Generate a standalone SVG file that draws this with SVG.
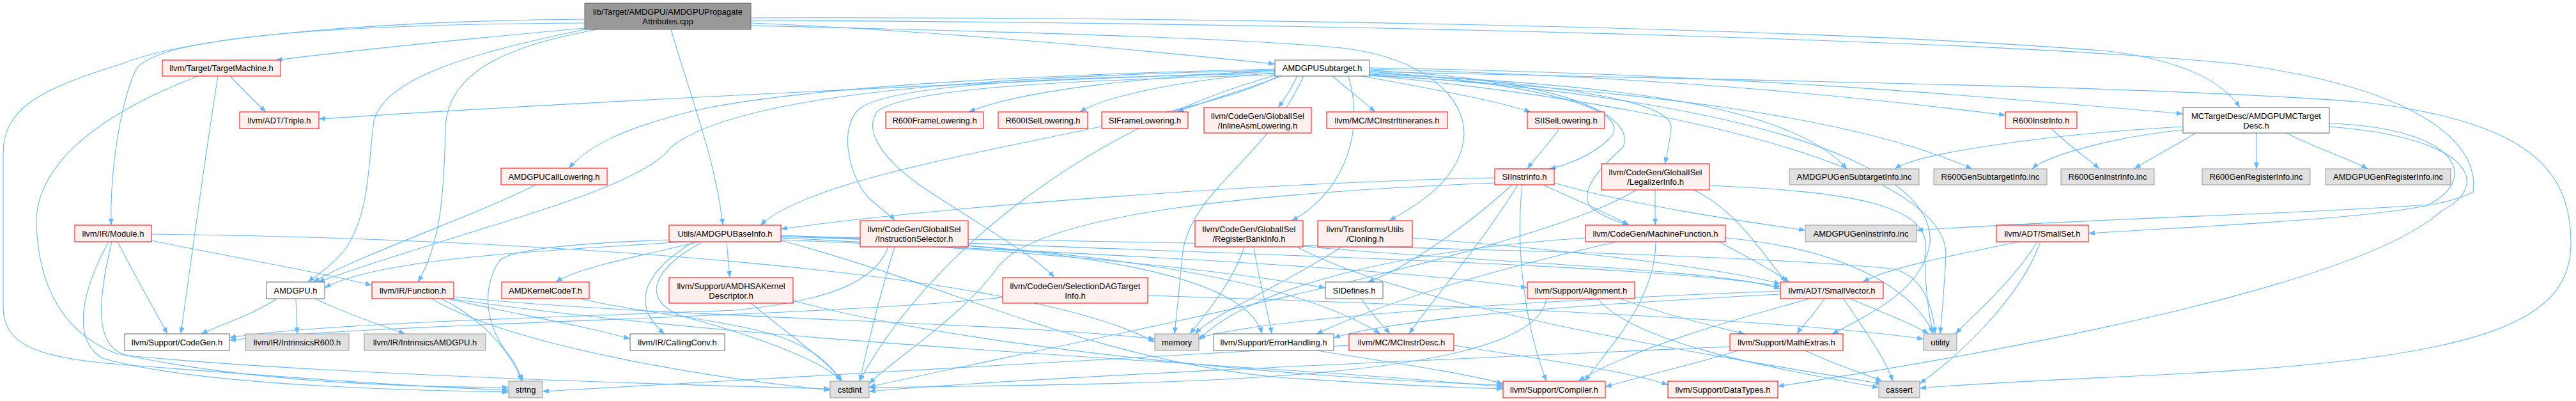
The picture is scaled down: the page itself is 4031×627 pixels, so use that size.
<svg xmlns="http://www.w3.org/2000/svg" width="4031" height="627" viewBox="0 0 4031 627">
<style>
rect.r{fill:#fff0f0;stroke:#ff0000;stroke-width:1}
rect.w{fill:#ffffff;stroke:#666666;stroke-width:1}
rect.g{fill:#e0e0e0;stroke:#999999;stroke-width:1}
rect.root{fill:#999999;stroke:#666666;stroke-width:1}
text{font-family:"Liberation Sans",Arial,Helvetica,sans-serif;font-size:13px;fill:#000;text-anchor:middle}
#edges path{fill:none;stroke:#63b8ff;stroke-width:1.1;marker-end:url(#arr)}
</style>
<defs>
<marker id="arr" markerUnits="userSpaceOnUse" markerWidth="11" markerHeight="8" refX="10" refY="4" orient="auto"><path d="M0,0 L10,4 L0,8 z" fill="#63b8ff"/></marker>
</defs>
<rect width="4031" height="627" fill="#fff"/>
<g id="edges">
<path d="M915,44 C760,58 560,78 432,94"/>
<path d="M915,36 C500,38 240,60 212,110 C185,170 172,280 174,352"/>
<path d="M915,30 C600,33 300,55 190,100 C60,140 5,170 5,240 L5,480 C5,540 60,560 190,570 C450,590 650,605 796,610"/>
<path d="M915,46 C750,80 600,120 585,190 C575,260 580,330 540,390 C515,420 495,430 482,441"/>
<path d="M935,46 C800,70 700,110 697,200 C695,300 690,380 654,441"/>
<path d="M1175,36 C1500,50 1800,80 1995,100"/>
<path d="M1050,46 C1080,150 1120,250 1131,352"/>
<path d="M1175,28 C1800,26 2800,40 3300,80 C3420,95 3480,130 3505,168"/>
<path d="M1175,32 C2000,35 3100,60 3500,100 C3800,140 3880,230 3870,300 C3800,340 3500,350 3268,365"/>
<path d="M1175,40 C1600,50 1950,60 2100,75 C2220,88 2300,150 2290,220 C2280,290 2200,330 2174,345"/>
<path d="M1995,112 C1500,130 900,160 499,186"/>
<path d="M1995,110 C1800,120 1600,140 1516,175"/>
<path d="M1995,114 C1850,125 1730,150 1690,175"/>
<path d="M2005,119 C1950,140 1880,160 1842,175"/>
<path d="M2030,119 C2020,140 2010,155 2000,168"/>
<path d="M2085,119 C2110,140 2135,160 2152,175"/>
<path d="M2130,119 C2250,140 2350,160 2395,175"/>
<path d="M2143,112 C2400,130 2560,170 2520,215 C2490,245 2450,258 2425,264"/>
<path d="M2143,114 C2450,130 2620,160 2615,200 C2612,230 2608,245 2605,256"/>
<path d="M2143,108 C2600,120 2900,150 3138,180"/>
<path d="M2143,116 C2500,130 2800,160 2890,264"/>
<path d="M2143,118 C2550,140 2900,180 3086,264"/>
<path d="M2143,106 C2700,115 3100,150 3416,178"/>
<path d="M1995,108 C1700,115 1300,130 1100,170 C970,200 920,230 890,263"/>
<path d="M1995,110 C1500,120 1150,150 1050,230 C1000,300 720,360 498,441"/>
<path d="M2000,119 C1850,200 1300,250 1190,352"/>
<path d="M1995,115 C1700,120 1400,128 1345,170 C1310,200 1330,280 1360,310 C1380,328 1395,338 1400,345"/>
<path d="M2110,119 C2140,220 2090,310 2021,345"/>
<path d="M2143,110 C2450,125 2560,180 2540,230 C2500,265 2470,300 2490,325 C2510,340 2535,348 2549,352"/>
<path d="M1995,117 C1700,125 1420,135 1372,175 C1355,200 1370,240 1440,290 C1530,350 1620,400 1650,434"/>
<path d="M2143,117 C2700,150 3030,250 3020,380 C3010,450 2930,490 2867,522"/>
<path d="M2143,112 C2700,125 3400,135 3700,160 C3950,190 4023,260 4023,380 C4023,500 3900,560 3400,585 C3200,595 3080,600 3004,607"/>
<path d="M1995,118 C1700,200 1450,400 1345,596"/>
<path d="M2040,119 C1980,250 1860,300 1850,400 C1845,460 1840,500 1838,522"/>
<path d="M2143,118 C2700,170 3050,280 3045,400 C3042,460 3038,500 3036,522"/>
<path d="M838,289 C760,330 560,400 490,441"/>
<path d="M360,119 C380,140 400,160 416,175"/>
<path d="M341,119 C320,250 300,400 283,522"/>
<path d="M310,119 C150,180 55,260 57,350 C60,450 100,520 180,552 C400,600 650,605 796,606"/>
<path d="M184,378 C210,430 240,480 262,522"/>
<path d="M237,376 C350,400 500,425 582,446"/>
<path d="M170,378 C130,450 110,530 160,560 C300,600 600,610 796,613"/>
<path d="M175,378 C150,480 150,545 200,556 C500,585 1000,600 1299,608"/>
<path d="M237,366 C800,372 1600,420 1807,535"/>
<path d="M433,467 C400,490 340,510 315,522"/>
<path d="M463,467 L465,522"/>
<path d="M493,467 C540,490 600,510 634,522"/>
<path d="M700,467 C800,490 920,510 986,530"/>
<path d="M690,467 C760,500 805,560 816,596"/>
<path d="M675,467 C800,540 1100,590 1299,610"/>
<path d="M705,467 C1200,540 2000,570 2352,605"/>
<path d="M710,464 C1000,495 1600,505 1807,530"/>
<path d="M1070,378 C900,390 600,400 508,450"/>
<path d="M1095,378 C1000,400 900,420 870,441"/>
<path d="M1137,378 L1142,434"/>
<path d="M1085,378 C1000,430 990,480 1040,522"/>
<path d="M1100,378 C1020,420 1000,470 1070,495 C1180,525 1280,560 1318,596"/>
<path d="M1222,372 C1600,390 1900,420 2074,450"/>
<path d="M1222,375 C1700,395 2200,420 2390,450"/>
<path d="M1222,370 C1600,380 2000,420 2160,522"/>
<path d="M1222,368 C1700,385 1950,430 1975,522"/>
<path d="M1222,376 C1500,450 1700,560 2000,590 C2150,600 2250,605 2352,608"/>
<path d="M1050,375 C900,380 790,390 780,410 C760,440 750,500 800,560 C810,575 815,588 818,596"/>
<path d="M1222,370 C2000,380 2700,395 2960,420 C3010,430 3025,480 3028,522"/>
<path d="M908,467 C1000,490 1150,500 1230,530 C1280,550 1305,575 1315,596"/>
<path d="M1175,474 C1230,520 1290,560 1318,596"/>
<path d="M1241,470 C1500,540 2000,590 2352,602"/>
<path d="M1390,386 C1370,440 1300,470 1150,485 C900,495 500,505 359,528"/>
<path d="M1515,380 C2000,400 2600,415 2786,448"/>
<path d="M1400,386 C1380,450 1360,530 1345,596"/>
<path d="M1947,386 C1930,440 1880,500 1862,522"/>
<path d="M1962,386 C1970,440 1985,490 1990,522"/>
<path d="M2039,385 C2300,410 2700,420 2786,452"/>
<path d="M2030,386 C2200,480 2700,560 2945,600"/>
<path d="M2210,372 C2450,390 2700,420 2786,444"/>
<path d="M2100,386 C2000,450 1900,490 1870,522"/>
<path d="M2530,378 C2300,430 2150,480 2060,522"/>
<path d="M2591,378 C2590,470 2520,540 2480,596"/>
<path d="M2690,378 C2730,400 2770,420 2800,441"/>
<path d="M2700,372 C2900,390 3000,460 3025,522"/>
<path d="M2481,372 C2200,390 1950,450 1876,532"/>
<path d="M2590,297 L2590,352"/>
<path d="M2650,297 C2720,330 2760,400 2795,441"/>
<path d="M2675,290 C2900,300 3030,320 3012,400 C3013,460 3020,500 3025,522"/>
<path d="M2560,297 C2400,400 1600,550 1360,605"/>
<path d="M2339,278 C2000,285 1500,320 1222,358"/>
<path d="M2366,289 C2300,350 2200,420 2140,441"/>
<path d="M2375,289 C2320,380 2240,470 2205,522"/>
<path d="M2382,289 C2370,400 2390,520 2420,596"/>
<path d="M2415,289 C2460,310 2520,335 2549,352"/>
<path d="M2432,286 C2550,320 2720,345 2825,360"/>
<path d="M2339,286 C2000,300 1620,330 1560,420 C1500,500 1400,560 1360,600"/>
<path d="M2440,201 C2420,230 2400,250 2390,264"/>
<path d="M3210,201 C3240,230 3270,250 3285,264"/>
<path d="M3531,208 L3531,264"/>
<path d="M3578,208 C3620,230 3680,250 3705,264"/>
<path d="M3416,198 C3200,210 3000,240 2965,264"/>
<path d="M3416,203 C3300,215 3200,245 3180,264"/>
<path d="M3436,208 C3400,230 3360,250 3340,264"/>
<path d="M3645,193 C3850,200 3880,280 3800,320 C3600,335 3300,340 2999,360"/>
<path d="M3645,198 C3870,215 3900,290 3820,330 C3700,440 3200,540 2782,604"/>
<path d="M3160,378 C3050,400 2950,420 2915,441"/>
<path d="M3188,378 C3150,440 3090,490 3060,522"/>
<path d="M3193,378 C3160,470 3060,560 3004,600"/>
<path d="M2855,467 C2840,490 2820,510 2812,522"/>
<path d="M2895,467 C2950,490 3000,510 3018,522"/>
<path d="M2885,467 C2920,520 2950,560 2962,596"/>
<path d="M2832,467 C2750,490 2560,540 2470,596"/>
<path d="M2786,460 C2500,475 2200,495 2087,528"/>
<path d="M2786,455 C2400,470 2000,495 1876,528"/>
<path d="M2720,548 C2650,570 2580,585 2512,605"/>
<path d="M2825,548 C2870,570 2920,585 2945,596"/>
<path d="M2707,542 C2300,560 1600,590 1360,612"/>
<path d="M2535,467 C2600,490 2680,510 2730,522"/>
<path d="M2500,467 C2560,540 2800,580 2940,606"/>
<path d="M2420,467 C2400,600 1800,600 1360,606"/>
<path d="M2060,548 C2200,570 2300,585 2352,600"/>
<path d="M2275,540 C2400,560 2550,580 2610,602"/>
<path d="M2111,540 C1600,570 1000,600 849,612"/>
<path d="M2130,467 C2145,490 2165,510 2175,522"/>
<path d="M1569,465 C1300,495 600,505 359,532"/>
<path d="M1796,462 C2300,478 2800,500 3010,530"/>
</g>
<g id="root"><rect class="root" x="915" y="5" width="260" height="41"/><text x="1045" y="23">lib/Target/AMDGPU/AMDGPUPropagate</text><text x="1045" y="38">Attributes.cpp</text></g>
<g id="tm"><rect class="r" x="254" y="94" width="185" height="25"/><text x="346.5" y="111">llvm/Target/TargetMachine.h</text></g>
<g id="subtarget"><rect class="w" x="1995" y="94" width="148" height="25"/><text x="2069" y="111">AMDGPUSubtarget.h</text></g>
<g id="triple"><rect class="r" x="375" y="175" width="124" height="26"/><text x="437" y="192.5">llvm/ADT/Triple.h</text></g>
<g id="r600frame"><rect class="r" x="1386" y="175" width="153" height="26"/><text x="1462.5" y="192.5">R600FrameLowering.h</text></g>
<g id="r600isel"><rect class="r" x="1562" y="175" width="140" height="26"/><text x="1632" y="192.5">R600ISelLowering.h</text></g>
<g id="siframe"><rect class="r" x="1724" y="175" width="135" height="26"/><text x="1791.5" y="192.5">SIFrameLowering.h</text></g>
<g id="inlineasm"><rect class="r" x="1884" y="168" width="168" height="40"/><text x="1968" y="186">llvm/CodeGen/GlobalISel</text><text x="1968" y="201">/InlineAsmLowering.h</text></g>
<g id="mcitin"><rect class="r" x="2076" y="175" width="189" height="26"/><text x="2170.5" y="192.5">llvm/MC/MCInstrItineraries.h</text></g>
<g id="siisel"><rect class="r" x="2390" y="175" width="121" height="26"/><text x="2450.5" y="192.5">SIISelLowering.h</text></g>
<g id="r600instr"><rect class="r" x="3138" y="175" width="112" height="26"/><text x="3194" y="192.5">R600InstrInfo.h</text></g>
<g id="mctd"><rect class="w" x="3416" y="168" width="229" height="40"/><text x="3530.5" y="186">MCTargetDesc/AMDGPUMCTarget</text><text x="3530.5" y="201">Desc.h</text></g>
<g id="calllow"><rect class="r" x="784" y="263" width="166" height="26"/><text x="867" y="280.5">AMDGPUCallLowering.h</text></g>
<g id="siinstr"><rect class="r" x="2339" y="264" width="93" height="25"/><text x="2385.5" y="281">SIInstrInfo.h</text></g>
<g id="legal"><rect class="r" x="2506" y="256" width="169" height="41"/><text x="2590.5" y="274">llvm/CodeGen/GlobalISel</text><text x="2590.5" y="289">/LegalizerInfo.h</text></g>
<g id="gensub"><rect class="g" x="2800" y="264" width="203" height="25"/><text x="2901.5" y="281">AMDGPUGenSubtargetInfo.inc</text></g>
<g id="r600gensub"><rect class="g" x="3026" y="264" width="177" height="25"/><text x="3114.5" y="281">R600GenSubtargetInfo.inc</text></g>
<g id="r600geninstr"><rect class="g" x="3225" y="264" width="146" height="25"/><text x="3298" y="281">R600GenInstrInfo.inc</text></g>
<g id="r600genreg"><rect class="g" x="3446" y="264" width="169" height="25"/><text x="3530.5" y="281">R600GenRegisterInfo.inc</text></g>
<g id="amdgenreg"><rect class="g" x="3639" y="264" width="196" height="25"/><text x="3737" y="281">AMDGPUGenRegisterInfo.inc</text></g>
<g id="module"><rect class="r" x="117" y="352" width="120" height="26"/><text x="177" y="369.5">llvm/IR/Module.h</text></g>
<g id="baseinfo"><rect class="r" x="1047" y="352" width="175" height="26"/><text x="1134.5" y="369.5">Utils/AMDGPUBaseInfo.h</text></g>
<g id="instsel"><rect class="r" x="1346" y="345" width="169" height="41"/><text x="1430.5" y="363">llvm/CodeGen/GlobalISel</text><text x="1430.5" y="378">/InstructionSelector.h</text></g>
<g id="regbank"><rect class="r" x="1870" y="345" width="169" height="41"/><text x="1954.5" y="363">llvm/CodeGen/GlobalISel</text><text x="1954.5" y="378">/RegisterBankInfo.h</text></g>
<g id="cloning"><rect class="r" x="2062" y="345" width="148" height="41"/><text x="2136" y="363">llvm/Transforms/Utils</text><text x="2136" y="378">/Cloning.h</text></g>
<g id="mf"><rect class="r" x="2481" y="352" width="219" height="26"/><text x="2590.5" y="369.5">llvm/CodeGen/MachineFunction.h</text></g>
<g id="geninstr"><rect class="g" x="2825" y="352" width="174" height="26"/><text x="2912" y="369.5">AMDGPUGenInstrInfo.inc</text></g>
<g id="smallset"><rect class="r" x="3124" y="352" width="144" height="26"/><text x="3196" y="369.5">llvm/ADT/SmallSet.h</text></g>
<g id="amdgpu"><rect class="w" x="417" y="441" width="91" height="26"/><text x="462.5" y="458.5">AMDGPU.h</text></g>
<g id="function"><rect class="r" x="582" y="441" width="128" height="26"/><text x="646" y="458.5">llvm/IR/Function.h</text></g>
<g id="kernelcode"><rect class="r" x="785" y="441" width="137" height="26"/><text x="853.5" y="458.5">AMDKernelCodeT.h</text></g>
<g id="hsakd"><rect class="r" x="1047" y="434" width="194" height="40"/><text x="1144" y="452">llvm/Support/AMDHSAKernel</text><text x="1144" y="467">Descriptor.h</text></g>
<g id="sdagti"><rect class="r" x="1569" y="434" width="227" height="40"/><text x="1682.5" y="452">llvm/CodeGen/SelectionDAGTarget</text><text x="1682.5" y="467">Info.h</text></g>
<g id="sidefines"><rect class="w" x="2074" y="441" width="90" height="26"/><text x="2119" y="458.5">SIDefines.h</text></g>
<g id="alignment"><rect class="r" x="2390" y="441" width="168" height="26"/><text x="2474" y="458.5">llvm/Support/Alignment.h</text></g>
<g id="smallvec"><rect class="r" x="2786" y="441" width="161" height="26"/><text x="2866.5" y="458.5">llvm/ADT/SmallVector.h</text></g>
<g id="codegen"><rect class="w" x="195" y="522" width="164" height="26"/><text x="277" y="539.5">llvm/Support/CodeGen.h</text></g>
<g id="intr600"><rect class="g" x="384" y="522" width="162" height="26"/><text x="465" y="539.5">llvm/IR/IntrinsicsR600.h</text></g>
<g id="intamdgpu"><rect class="g" x="570" y="522" width="190" height="26"/><text x="665" y="539.5">llvm/IR/IntrinsicsAMDGPU.h</text></g>
<g id="callconv"><rect class="w" x="986" y="522" width="148" height="26"/><text x="1060" y="539.5">llvm/IR/CallingConv.h</text></g>
<g id="memory"><rect class="g" x="1807" y="522" width="69" height="26"/><text x="1841.5" y="539.5">memory</text></g>
<g id="errh"><rect class="w" x="1899" y="522" width="188" height="26"/><text x="1993" y="539.5">llvm/Support/ErrorHandling.h</text></g>
<g id="mcinstrdesc"><rect class="r" x="2111" y="522" width="164" height="26"/><text x="2193" y="539.5">llvm/MC/MCInstrDesc.h</text></g>
<g id="mathext"><rect class="r" x="2707" y="522" width="177" height="26"/><text x="2795.5" y="539.5">llvm/Support/MathExtras.h</text></g>
<g id="utility"><rect class="g" x="3010" y="522" width="52" height="26"/><text x="3036" y="539.5">utility</text></g>
<g id="string"><rect class="g" x="796" y="596" width="53" height="26"/><text x="822.5" y="613.5">string</text></g>
<g id="cstdint"><rect class="g" x="1299" y="596" width="61" height="26"/><text x="1329.5" y="613.5">cstdint</text></g>
<g id="compiler"><rect class="r" x="2352" y="596" width="160" height="26"/><text x="2432" y="613.5">llvm/Support/Compiler.h</text></g>
<g id="datatypes"><rect class="r" x="2610" y="596" width="172" height="26"/><text x="2696" y="613.5">llvm/Support/DataTypes.h</text></g>
<g id="cassert"><rect class="g" x="2940" y="596" width="64" height="26"/><text x="2972" y="613.5">cassert</text></g>
</svg>
